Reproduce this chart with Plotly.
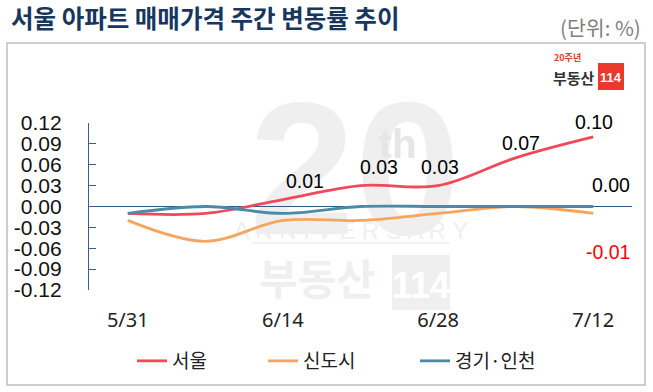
import plotly.graph_objects as go

# ---------------- data ----------------
weeks = ["5/31", "6/7", "6/14", "6/21", "6/28", "7/5", "7/12"]
tick_weeks = ["5/31", "6/14", "6/28", "7/12"]
seoul = [-0.01, -0.01, 0.01, 0.03, 0.03, 0.07, 0.10]
newtown = [-0.02, -0.05, -0.02, -0.02, -0.01, 0.00, -0.01]
gyeonggi = [-0.01, 0.00, -0.01, 0.00, 0.00, 0.00, 0.00]
y_ticks = [0.12, 0.09, 0.06, 0.03, 0.00, -0.03, -0.06, -0.09, -0.12]

series_names = ["서울", "신도시", "경기·인천"]
colors = ["#EF4A5A", "#F6A65C", "#4B8BA5"]

W_PX, H_PX = 653, 392
L, R, T, B = 89, 632, 123, 290


def px(x):
    return (x - L) / (R - L)


def py(y):
    return (B - y) / (B - T)


KR = "Noto Sans CJK KR"
NUM = "Liberation Sans, Arial"

xs = list(range(len(weeks)))
fig = go.Figure()
for i, (name, vals) in enumerate(zip(series_names, [seoul, newtown, gyeonggi])):
    fig.add_trace(go.Scatter(
        x=xs, y=vals, mode="lines", name=name,
        line=dict(color=colors[i], width=2.8, shape="spline", smoothing=1.0),
        legend=["legend", "legend2", "legend3"][i],
        hoverinfo="skip",
    ))

# data labels
label_pts = [
    (2, seoul[2], 22, 19, "black"),
    (3, seoul[3], 18, 19, "black"),
    (4, seoul[4], 2, 19, "black"),
    (5, seoul[5], 5, 15, "black"),
    (6, seoul[6], 1, 15, "black"),
    (6, gyeonggi[6], 18, 22, "black"),
    (6, newtown[6], 15, -39, "#FF0000"),
]
annotations = []
for xi, v, dx, dy, c in label_pts:
    annotations.append(dict(
        x=xi, y=v, xref="x", yref="y", text=f"{v:.2f}", showarrow=False,
        xshift=dx, yshift=dy, font=dict(family=NUM, size=19.5, color=c),
        xanchor="center", yanchor="middle",
    ))

# title and unit
annotations.append(dict(
    x=px(9), y=py(17.5), xref="paper", yref="paper", xanchor="left", yanchor="middle",
    text="<b>서울 아파트 매매가격 주간 변동률 추이</b>", showarrow=False,
    font=dict(family=KR, size=24.5, color="#17375E"),
))
annotations.append(dict(
    x=px(643), y=py(27), xref="paper", yref="paper", xanchor="right", yanchor="middle",
    text="(단위: %)", showarrow=False,
    font=dict(family=KR, size=20.5, color="#808080"),
))

# logo top right
annotations += [
    dict(x=px(552), y=py(58), xref="paper", yref="paper", text="<b>20주년</b>", showarrow=False,
         font=dict(family=KR, size=9, color="#E53A2E"), xanchor="left", yanchor="middle"),
    dict(x=px(551), y=py(77), xref="paper", yref="paper", text="<b>부동산</b>", showarrow=False,
         font=dict(family=KR, size=15, color="#333333"), xanchor="left", yanchor="middle"),
    dict(x=px(611), y=py(77), xref="paper", yref="paper", text="<b>114</b>", showarrow=False,
         font=dict(family="Liberation Sans", size=13, color="white"), xanchor="center", yanchor="middle"),
]

WM = "#EFEFEF"


def wm_text(x0, x1, y0, y1, text, size, color=WM, family="Liberation Sans", weight="bold"):
    return dict(type="rect", xref="paper", yref="paper", x0=px(x0), x1=px(x1), y0=py(y1), y1=py(y0),
                line=dict(width=0), fillcolor="rgba(0,0,0,0)", layer="below",
                label=dict(text=text, textposition="middle center",
                           font=dict(family=family, size=size, color=color, weight=weight)))


shapes = [
    # frame
    dict(type="rect", xref="paper", yref="paper", x0=px(7), x1=px(645), y0=py(385), y1=py(43),
         line=dict(color="#BFBFBF", width=1.5), layer="below"),
    # watermark
    wm_text(245, 465, 70, 230, "20", 190),
    wm_text(375, 420, 120, 160, "th", 40, color="#E6E6E6"),
    wm_text(250, 452, 216, 240, "A N N I V E R S A R Y", 24, weight="normal"),
    dict(type="line", xref="paper", yref="paper", x0=px(252), x1=px(450), y0=py(243), y1=py(243),
         line=dict(color=WM, width=1.5), layer="below"),
    wm_text(248, 386, 258, 308, "부동산", 42, family=KR),
    dict(type="rect", xref="paper", yref="paper", x0=px(392), x1=px(450), y0=py(310), y1=py(255),
         fillcolor=WM, line=dict(width=0), layer="below"),
    wm_text(392, 450, 255, 310, "114", 36, color="white"),
    # logo red box
    dict(type="rect", xref="paper", yref="paper", x0=px(598), x1=px(624), y0=py(90), y1=py(63),
         fillcolor="#E8392B", line=dict(width=0)),
]

legend_common = dict(orientation="h", yanchor="middle", xanchor="left",
                     font=dict(family=KR, size=19, color="#222222"),
                     bgcolor="rgba(0,0,0,0)", itemwidth=30)
fig.update_layout(
    width=W_PX, height=H_PX,
    margin=dict(l=L, r=W_PX - R, t=T, b=H_PX - B),
    paper_bgcolor="white", plot_bgcolor="rgba(0,0,0,0)",
    showlegend=True,
    legend=dict(x=px(132), y=py(361), **legend_common),
    legend2=dict(x=px(263), y=py(361), **legend_common),
    legend3=dict(x=px(415), y=py(361), **legend_common),
    xaxis=dict(range=[-0.5, 6.5], showgrid=False, zeroline=False, showline=False,
               tickmode="array", tickvals=[weeks.index(w) for w in tick_weeks], ticktext=tick_weeks,
               ticks="", tickfont=dict(family="Noto Sans", size=20, color="#222222"),
               ticklabelstandoff=16),
    yaxis=dict(range=[-0.12, 0.12], showgrid=False, zeroline=True, zerolinecolor="#2F5A85",
               zerolinewidth=1.3, showline=True, linecolor="#3B6088", linewidth=1.3,
               tickmode="array", tickvals=y_ticks, ticktext=[f"{v:.2f}" for v in y_ticks],
               ticks="inside", ticklen=7, tickcolor="#3B6088", tickwidth=1.3,
               tickfont=dict(family=NUM, size=21, color="#111111"), ticklabelstandoff=22),
    annotations=annotations, shapes=shapes,
)

fig.write_html("out.html", config={"displayModeBar": False},
               post_script="document.body.style.margin='0';")
